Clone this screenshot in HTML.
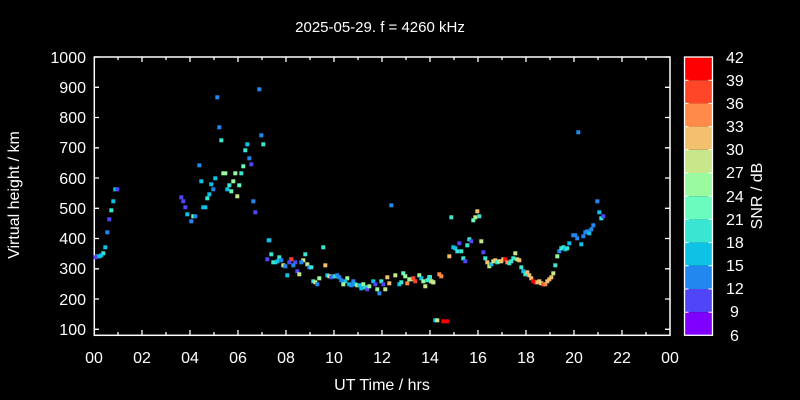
<!DOCTYPE html>
<html><head><meta charset="utf-8"><style>
html,body{margin:0;padding:0;background:#000;}
svg{display:block;font-family:"Liberation Sans",sans-serif;}
.r{fill:#ff0000}.o{fill:#ff4628}.a{fill:#ff8a4a}.y{fill:#f2c06e}.l{fill:#c8e68a}.g{fill:#9afaa0}.m{fill:#6afcbe}.t{fill:#3ae6d2}.c{fill:#0ec2e6}.b{fill:#2288f0}.p{fill:#5046f8}
</style></head><body>
<svg width="800" height="400" xmlns="http://www.w3.org/2000/svg">
<rect width="800" height="400" fill="#000"/>
<text x="380" y="32" fill="#fff" font-size="15" text-anchor="middle">2025-05-29. f = 4260 kHz</text>
<text x="382" y="390" fill="#fff" font-size="16" text-anchor="middle">UT Time / hrs</text>
<text transform="translate(19,195) rotate(-90)" fill="#fff" font-size="16" text-anchor="middle">Virtual height / km</text>
<rect x="94.3" y="57" width="575.7" height="278.3" fill="none" stroke="#fff" stroke-width="1.5"/>
<g stroke="#fff" stroke-width="1.3">
<path d="M94 57h5M94 87.3h5M94 117.5h5M94 147.8h5M94 178h5M94 208.3h5M94 238.5h5M94 268.8h5M94 299h5M94 329.3h5"/>
<path d="M670 57h-5M670 87.3h-5M670 117.5h-5M670 147.8h-5M670 178h-5M670 208.3h-5M670 238.5h-5M670 268.8h-5M670 299h-5M670 329.3h-5"/>
<path d="M142 335v-5M190 335v-5M238 335v-5M286 335v-5M334 335v-5M382 335v-5M430 335v-5M478 335v-5M526 335v-5M574 335v-5M622 335v-5"/>
<path d="M118 335v-3M166 335v-3M214 335v-3M262 335v-3M310 335v-3M358 335v-3M406 335v-3M454 335v-3M502 335v-3M550 335v-3M598 335v-3M646 335v-3"/>
<path d="M142 57v5M190 57v5M238 57v5M286 57v5M334 57v5M382 57v5M430 57v5M478 57v5M526 57v5M574 57v5M622 57v5"/>
<path d="M118 57v3M166 57v3M214 57v3M262 57v3M310 57v3M358 57v3M406 57v3M454 57v3M502 57v3M550 57v3M598 57v3M646 57v3"/>
</g>
<g fill="#fff" font-size="16" text-anchor="end">
<text x="86" y="63">1000</text><text x="86" y="93">900</text><text x="86" y="123">800</text><text x="86" y="153">700</text><text x="86" y="184">600</text><text x="86" y="214">500</text><text x="86" y="244">400</text><text x="86" y="274">300</text><text x="86" y="305">200</text><text x="86" y="335">100</text>
</g>
<g fill="#fff" font-size="16" text-anchor="middle">
<text x="94" y="363">00</text><text x="142" y="363">02</text><text x="190" y="363">04</text><text x="238" y="363">06</text><text x="286" y="363">08</text><text x="334" y="363">10</text><text x="382" y="363">12</text><text x="430" y="363">14</text><text x="478" y="363">16</text><text x="526" y="363">18</text><text x="574" y="363">20</text><text x="622" y="363">22</text><text x="670" y="363">00</text>
</g>
<rect x="684.5" y="57" width="28" height="23.2" fill="#ff0000"/>
<rect x="684.5" y="80.2" width="28" height="23.2" fill="#ff4628"/>
<rect x="684.5" y="103.4" width="28" height="23.2" fill="#ff8a4a"/>
<rect x="684.5" y="126.6" width="28" height="23.2" fill="#f2c06e"/>
<rect x="684.5" y="149.8" width="28" height="23.2" fill="#c8e68a"/>
<rect x="684.5" y="173" width="28" height="23.2" fill="#9afaa0"/>
<rect x="684.5" y="196.2" width="28" height="23.2" fill="#6afcbe"/>
<rect x="684.5" y="219.4" width="28" height="23.2" fill="#3ae6d2"/>
<rect x="684.5" y="242.6" width="28" height="23.2" fill="#0ec2e6"/>
<rect x="684.5" y="265.8" width="28" height="23.2" fill="#2288f0"/>
<rect x="684.5" y="289" width="28" height="23.2" fill="#5046f8"/>
<rect x="684.5" y="312.2" width="28" height="23.2" fill="#8000ff"/>
<rect x="684.5" y="57" width="28" height="278.3" fill="none" stroke="#fff" stroke-width="1.3"/>
<path stroke="#fff" stroke-width="1" d="M684.5 80.2h4M684.5 103.4h4M684.5 126.6h4M684.5 149.8h4M684.5 173h4M684.5 196.2h4M684.5 219.4h4M684.5 242.6h4M684.5 265.8h4M684.5 289h4M684.5 312.2h4M712.5 80.2h-4M712.5 103.4h-4M712.5 126.6h-4M712.5 149.8h-4M712.5 173h-4M712.5 196.2h-4M712.5 219.4h-4M712.5 242.6h-4M712.5 265.8h-4M712.5 289h-4M712.5 312.2h-4"/>
<g fill="#fff" font-size="16">
<text x="726" y="63">42</text><text x="726" y="86">39</text><text x="726" y="109">36</text><text x="726" y="132">33</text><text x="726" y="155">30</text><text x="726" y="178">27</text><text x="726" y="202">24</text><text x="726" y="225">21</text><text x="726" y="248">18</text><text x="726" y="271">15</text><text x="726" y="294">12</text><text x="730" y="317">9</text><text x="730" y="341">6</text>
</g>
<text transform="translate(762,196) rotate(-90)" fill="#fff" font-size="16" text-anchor="middle">SNR / dB</text>
<g>
<rect class="b" x="257.3" y="87.3" width="4" height="4"/>
<rect class="b" x="215.3" y="95.3" width="4" height="4"/>
<rect class="b" x="217.3" y="125.3" width="4" height="4"/>
<rect class="t" x="219.3" y="138.3" width="4" height="4"/>
<rect class="b" x="259.3" y="133.3" width="4" height="4"/>
<rect class="t" x="261.3" y="142.3" width="4" height="4"/>
<rect class="c" x="245.3" y="142.3" width="4" height="4"/>
<rect class="t" x="243.3" y="148.3" width="4" height="4"/>
<rect class="b" x="247.3" y="156.3" width="4" height="4"/>
<rect class="p" x="249.3" y="162.3" width="4" height="4"/>
<rect class="m" x="241.3" y="164.3" width="4" height="4"/>
<rect class="b" x="197.3" y="163.3" width="4" height="4"/>
<rect class="g" x="221.3" y="171.3" width="6" height="4"/>
<rect class="g" x="233.3" y="171.3" width="4" height="4"/>
<rect class="t" x="239.3" y="171.3" width="4" height="4"/>
<rect class="c" x="199.3" y="179.3" width="4" height="4"/>
<rect class="c" x="213.3" y="176.3" width="4" height="4"/>
<rect class="g" x="231.3" y="179.3" width="4" height="4"/>
<rect class="c" x="209.3" y="182.3" width="4" height="4"/>
<rect class="m" x="237.3" y="183.3" width="4" height="4"/>
<rect class="t" x="227.3" y="183.3" width="4" height="4"/>
<rect class="b" x="211.3" y="187.3" width="4" height="4"/>
<rect class="c" x="225.3" y="187.3" width="4" height="4"/>
<rect class="m" x="229.3" y="189.3" width="4" height="4"/>
<rect class="c" x="207.3" y="192.3" width="4" height="4"/>
<rect class="l" x="235.3" y="194.3" width="4" height="4"/>
<rect class="t" x="205.3" y="196.3" width="4" height="4"/>
<rect class="p" x="179.3" y="195.3" width="4" height="4"/>
<rect class="p" x="181.3" y="199.3" width="4" height="4"/>
<rect class="b" x="251.3" y="199.3" width="4" height="4"/>
<rect class="p" x="183.3" y="205.3" width="4" height="4"/>
<rect class="c" x="201.3" y="205.3" width="6" height="4"/>
<rect class="p" x="253.3" y="210.3" width="4" height="4"/>
<rect class="c" x="185.3" y="212.3" width="4" height="4"/>
<rect class="m" x="191.3" y="214.3" width="4" height="4"/>
<rect class="b" x="193.3" y="214.3" width="4" height="4"/>
<rect class="b" x="189.3" y="219.3" width="4" height="4"/>
<rect class="c" x="266.7" y="238.3" width="4" height="4"/>
<rect class="p" x="265.3" y="257.3" width="4" height="4"/>
<rect class="c" x="113.3" y="187.3" width="4" height="4"/>
<rect class="p" x="115.3" y="187.3" width="4" height="4"/>
<rect class="c" x="111.3" y="199.3" width="4" height="4"/>
<rect class="t" x="109.3" y="208.3" width="4" height="4"/>
<rect class="p" x="107.3" y="217.3" width="4" height="4"/>
<rect class="b" x="105.3" y="230.3" width="4" height="4"/>
<rect class="c" x="103.3" y="245.3" width="4" height="4"/>
<rect class="t" x="101.3" y="251.3" width="4" height="4"/>
<rect class="c" x="99.3" y="253.3" width="4" height="4"/>
<rect class="b" x="95.3" y="254.3" width="4" height="4"/>
<rect class="c" x="97.3" y="254.3" width="4" height="4"/>
<rect class="p" x="93.3" y="255.3" width="4" height="4"/>
<rect class="c" x="267.3" y="238.3" width="4" height="4"/>
<rect class="t" x="321.3" y="245.3" width="4" height="4"/>
<rect class="t" x="269.3" y="252.3" width="4" height="4"/>
<rect class="t" x="277.3" y="255.3" width="4" height="4"/>
<rect class="t" x="271.3" y="260.3" width="6" height="4"/>
<rect class="c" x="275.3" y="259.3" width="4" height="4"/>
<rect class="b" x="279.3" y="258.3" width="4" height="4"/>
<rect class="o" x="289.3" y="257.3" width="4" height="4"/>
<rect class="p" x="287.3" y="260.3" width="4" height="4"/>
<rect class="p" x="293.3" y="260.3" width="4" height="4"/>
<rect class="l" x="301.3" y="258.3" width="4" height="4"/>
<rect class="b" x="299.3" y="260.3" width="4" height="4"/>
<rect class="t" x="303.3" y="252.3" width="4" height="4"/>
<rect class="b" x="291.3" y="263.3" width="4" height="4"/>
<rect class="l" x="281.3" y="263.3" width="4" height="4"/>
<rect class="b" x="283.3" y="264.3" width="4" height="4"/>
<rect class="l" x="305.3" y="262.3" width="4" height="4"/>
<rect class="b" x="307.3" y="265.3" width="4" height="4"/>
<rect class="t" x="309.3" y="265.3" width="4" height="4"/>
<rect class="y" x="323.3" y="263.3" width="4" height="4"/>
<rect class="p" x="295.3" y="269.3" width="4" height="4"/>
<rect class="l" x="297.3" y="272.3" width="4" height="4"/>
<rect class="c" x="285.3" y="273.3" width="4" height="4"/>
<rect class="g" x="317.3" y="276.3" width="4" height="4"/>
<rect class="t" x="311.3" y="279.3" width="4" height="4"/>
<rect class="l" x="313.3" y="280.3" width="4" height="4"/>
<rect class="b" x="315.3" y="282.3" width="4" height="4"/>
<rect class="c" x="325.3" y="273.3" width="4" height="4"/>
<rect class="l" x="327.3" y="274.3" width="4" height="4"/>
<rect class="p" x="329.3" y="275.3" width="4" height="4"/>
<rect class="b" x="331.3" y="274.3" width="4" height="4"/>
<rect class="t" x="333.3" y="274.3" width="4" height="4"/>
<rect class="b" x="335.3" y="273.3" width="4" height="4"/>
<rect class="b" x="337.3" y="275.3" width="4" height="4"/>
<rect class="b" x="339.3" y="278.3" width="4" height="4"/>
<rect class="g" x="345.3" y="276.3" width="4" height="4"/>
<rect class="c" x="343.3" y="279.3" width="4" height="4"/>
<rect class="g" x="341.3" y="282.3" width="4" height="4"/>
<rect class="c" x="347.3" y="282.3" width="4" height="4"/>
<rect class="b" x="349.3" y="283.3" width="4" height="4"/>
<rect class="b" x="351.3" y="279.3" width="4" height="4"/>
<rect class="c" x="353.3" y="282.3" width="4" height="4"/>
<rect class="l" x="355.3" y="283.3" width="4" height="4"/>
<rect class="c" x="357.3" y="283.3" width="4" height="4"/>
<rect class="c" x="359.3" y="286.3" width="4" height="4"/>
<rect class="g" x="361.3" y="282.3" width="4" height="4"/>
<rect class="t" x="363.3" y="285.3" width="4" height="4"/>
<rect class="p" x="365.3" y="287.3" width="4" height="4"/>
<rect class="g" x="367.3" y="284.3" width="4" height="4"/>
<rect class="c" x="371.3" y="279.3" width="4" height="4"/>
<rect class="p" x="373.3" y="282.3" width="4" height="4"/>
<rect class="g" x="375.3" y="287.3" width="4" height="4"/>
<rect class="b" x="377.3" y="291.3" width="4" height="4"/>
<rect class="t" x="379.3" y="279.3" width="4" height="4"/>
<rect class="p" x="381.3" y="282.3" width="4" height="4"/>
<rect class="l" x="383.3" y="287.3" width="4" height="4"/>
<rect class="y" x="385.3" y="275.3" width="4" height="4"/>
<rect class="y" x="387.3" y="281.3" width="4" height="4"/>
<rect class="l" x="393.3" y="273.3" width="4" height="4"/>
<rect class="c" x="397.3" y="282.3" width="4" height="4"/>
<rect class="t" x="399.3" y="280.3" width="4" height="4"/>
<rect class="m" x="401.3" y="271.3" width="4" height="4"/>
<rect class="g" x="403.3" y="274.3" width="4" height="4"/>
<rect class="a" x="405.3" y="281.3" width="4" height="4"/>
<rect class="g" x="407.3" y="277.3" width="4" height="4"/>
<rect class="l" x="409.3" y="277.3" width="4" height="4"/>
<rect class="o" x="411.3" y="276.3" width="4" height="4"/>
<rect class="o" x="413.3" y="279.3" width="4" height="4"/>
<rect class="g" x="417.3" y="273.3" width="4" height="4"/>
<rect class="c" x="419.3" y="276.3" width="4" height="4"/>
<rect class="g" x="421.3" y="279.3" width="4" height="4"/>
<rect class="l" x="423.3" y="284.3" width="4" height="4"/>
<rect class="t" x="425.3" y="278.3" width="4" height="4"/>
<rect class="g" x="427.3" y="275.3" width="4" height="4"/>
<rect class="l" x="429.3" y="279.3" width="4" height="4"/>
<rect class="g" x="431.3" y="280.3" width="4" height="4"/>
<rect class="a" x="437.3" y="272.3" width="4" height="4"/>
<rect class="a" x="439.3" y="274.3" width="4" height="4"/>
<rect class="y" x="447.3" y="254.3" width="4" height="4"/>
<rect class="c" x="451.3" y="245.3" width="4" height="4"/>
<rect class="c" x="453.3" y="246.3" width="4" height="4"/>
<rect class="t" x="455.3" y="249.3" width="4" height="4"/>
<rect class="p" x="457.3" y="241.3" width="4" height="4"/>
<rect class="c" x="433.3" y="318.3" width="4" height="4"/>
<rect class="l" x="435.3" y="318.3" width="4" height="4"/>
<rect class="r" x="441.3" y="319.3" width="8" height="4"/>
<rect class="b" x="389.3" y="203.3" width="4" height="4"/>
<rect class="y" x="475.3" y="209.3" width="4" height="4"/>
<rect class="l" x="473.3" y="215.3" width="4" height="4"/>
<rect class="t" x="477.3" y="214.3" width="4" height="4"/>
<rect class="m" x="471.3" y="218.3" width="4" height="4"/>
<rect class="t" x="449.3" y="215.3" width="4" height="4"/>
<rect class="t" x="467.3" y="237.3" width="4" height="4"/>
<rect class="p" x="469.3" y="239.3" width="4" height="4"/>
<rect class="l" x="479.3" y="239.3" width="4" height="4"/>
<rect class="t" x="465.3" y="243.3" width="4" height="4"/>
<rect class="t" x="459.3" y="249.3" width="4" height="4"/>
<rect class="p" x="481.3" y="250.3" width="4" height="4"/>
<rect class="t" x="461.3" y="256.3" width="4" height="4"/>
<rect class="p" x="463.3" y="259.3" width="4" height="4"/>
<rect class="t" x="483.3" y="256.3" width="4" height="4"/>
<rect class="y" x="485.3" y="260.3" width="4" height="4"/>
<rect class="l" x="487.3" y="264.3" width="4" height="4"/>
<rect class="c" x="489.3" y="262.3" width="4" height="4"/>
<rect class="l" x="491.3" y="259.3" width="4" height="4"/>
<rect class="y" x="493.3" y="258.3" width="4" height="4"/>
<rect class="t" x="495.3" y="260.3" width="4" height="4"/>
<rect class="g" x="497.3" y="259.3" width="4" height="4"/>
<rect class="y" x="499.3" y="259.3" width="4" height="4"/>
<rect class="y" x="501.3" y="257.3" width="4" height="4"/>
<rect class="r" x="503.3" y="257.3" width="4" height="4"/>
<rect class="a" x="505.3" y="260.3" width="4" height="4"/>
<rect class="t" x="507.3" y="261.3" width="4" height="4"/>
<rect class="t" x="509.3" y="259.3" width="4" height="4"/>
<rect class="t" x="511.3" y="256.3" width="4" height="4"/>
<rect class="l" x="513.3" y="251.3" width="4" height="4"/>
<rect class="l" x="515.3" y="257.3" width="4" height="4"/>
<rect class="y" x="517.3" y="258.3" width="4" height="4"/>
<rect class="t" x="519.3" y="265.3" width="4" height="4"/>
<rect class="c" x="521.3" y="269.3" width="4" height="4"/>
<rect class="t" x="523.3" y="272.3" width="4" height="4"/>
<rect class="y" x="525.3" y="270.3" width="4" height="4"/>
<rect class="y" x="527.3" y="273.3" width="4" height="4"/>
<rect class="y" x="529.3" y="276.3" width="4" height="4"/>
<rect class="r" x="531.3" y="279.3" width="4" height="4"/>
<rect class="r" x="533.3" y="280.3" width="4" height="4"/>
<rect class="y" x="535.3" y="280.3" width="4" height="4"/>
<rect class="y" x="537.3" y="279.3" width="4" height="4"/>
<rect class="l" x="539.3" y="281.3" width="4" height="4"/>
<rect class="o" x="541.3" y="282.3" width="4" height="4"/>
<rect class="a" x="543.3" y="282.3" width="4" height="4"/>
<rect class="y" x="545.3" y="279.3" width="4" height="4"/>
<rect class="y" x="547.3" y="277.3" width="4" height="4"/>
<rect class="y" x="549.3" y="275.3" width="4" height="4"/>
<rect class="l" x="551.3" y="271.3" width="4" height="4"/>
<rect class="t" x="553.3" y="263.3" width="4" height="4"/>
<rect class="g" x="555.3" y="254.3" width="4" height="4"/>
<rect class="b" x="557.3" y="249.3" width="4" height="4"/>
<rect class="t" x="559.3" y="246.3" width="4" height="4"/>
<rect class="t" x="561.3" y="245.3" width="4" height="4"/>
<rect class="c" x="563.3" y="247.3" width="4" height="4"/>
<rect class="t" x="565.3" y="246.3" width="4" height="4"/>
<rect class="c" x="567.3" y="241.3" width="4" height="4"/>
<rect class="b" x="571.3" y="233.3" width="6" height="4"/>
<rect class="b" x="575.3" y="236.3" width="4" height="4"/>
<rect class="c" x="579.3" y="242.3" width="4" height="4"/>
<rect class="b" x="581.3" y="234.3" width="4" height="4"/>
<rect class="b" x="583.3" y="230.3" width="4" height="4"/>
<rect class="b" x="585.3" y="229.3" width="4" height="4"/>
<rect class="c" x="587.3" y="231.3" width="4" height="4"/>
<rect class="b" x="589.3" y="227.3" width="4" height="4"/>
<rect class="b" x="591.3" y="223.3" width="4" height="4"/>
<rect class="b" x="595.3" y="199.3" width="4" height="4"/>
<rect class="c" x="597.3" y="210.3" width="4" height="4"/>
<rect class="t" x="599.3" y="216.3" width="4" height="4"/>
<rect class="p" x="601.3" y="214.3" width="4" height="4"/>
<rect class="b" x="576.3" y="130.3" width="4" height="4"/>
<rect class="t" x="428" y="275" width="4" height="4"/>
<rect class="l" x="429.3" y="279.3" width="4" height="4"/>
<rect class="l" x="431.3" y="280.3" width="4" height="4"/>
</g>
</svg>
</body></html>
